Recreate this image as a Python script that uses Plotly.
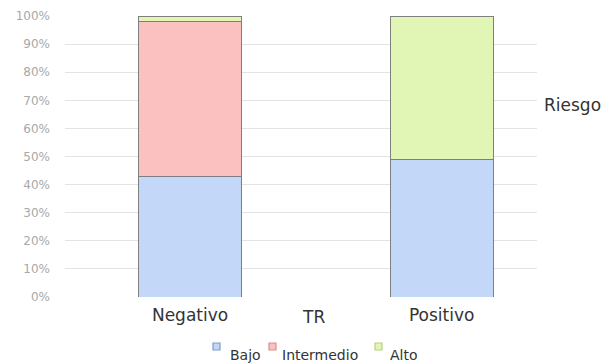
import plotly.graph_objects as go

# Categories and stacked percentage values per risk level
categorias = ["Negativo", "Positivo"]
bajo = [43, 49]
intermedio = [55, 0]
alto = [2, 51]
ticks_y = [0, 10, 20, 30, 40, 50, 60, 70, 80, 90, 100]
ticks_y_text = [f"{v}%" for v in ticks_y]

# name, values, fill colour, icon outline colour
series = [
    ("Bajo", bajo, "#c3d7f8", "#7f9cc9"),
    ("Intermedio", intermedio, "#fbc0c0", "#d88f8f"),
    ("Alto", alto, "#e1f5b5", "#b9cf85"),
]

fig = go.Figure()
for nombre, valores, color, _ in series:
    fig.add_trace(go.Bar(
        x=categorias,
        y=valores,
        name=nombre,
        width=0.41,
        marker=dict(color=color, line=dict(color="#7f7f7f", width=1)),
        showlegend=False,
    ))

# Plot-area geometry in pixels (used to place the free text in paper units)
W, H = 604, 364
L, R, T, B = 65, 67, 16, 67
pw, ph = W - L - R, H - T - B


def px_x(x):
    return (x - L) / pw


def px_y(y):
    return (H - B - y) / ph


# Compact legend row: small outlined square followed by the series name
icon_left = [213, 269, 375]
text_left = [228, 280, 388]
anotaciones = []
formas = []
for (nombre, _, color, borde), xi, xt in zip(series, icon_left, text_left):
    formas.append(dict(
        type="rect", xref="paper", yref="paper",
        x0=px_x(xi), x1=px_x(xi + 7), y0=px_y(350), y1=px_y(343),
        fillcolor=color, line=dict(color=borde, width=1.2),
    ))
    anotaciones.append(dict(
        text=nombre, x=px_x(xt), y=px_y(355), xref="paper", yref="paper",
        xanchor="left", yanchor="middle", showarrow=False,
        font=dict(size=14, color="#333333"),
    ))

anotaciones += [
    dict(text="TR", x=px_x(313), y=px_y(317), xref="paper", yref="paper",
         xanchor="center", yanchor="middle", showarrow=False,
         font=dict(size=17, color="#333333")),
    dict(text="Riesgo", x=px_x(572), y=px_y(105), xref="paper", yref="paper",
         xanchor="center", yanchor="middle", showarrow=False,
         font=dict(size=17, color="#333333")),
]

fig.update_layout(
    barmode="stack",
    width=W,
    height=H,
    margin=dict(l=L, r=R, t=T, b=B, autoexpand=False),
    paper_bgcolor="white",
    plot_bgcolor="white",
    font=dict(family="DejaVu Sans", color="#333333"),
    showlegend=False,
    xaxis=dict(
        range=[-0.497, 1.379],
        showgrid=False,
        showline=False,
        ticks="",
        automargin=False,
        ticklabelstandoff=6,
        tickfont=dict(size=17, color="#333333"),
    ),
    yaxis=dict(
        range=[0, 100],
        tickvals=ticks_y,
        ticktext=ticks_y_text,
        showgrid=True,
        gridcolor="#e3e3e3",
        gridwidth=1,
        zeroline=False,
        showline=False,
        ticks="",
        automargin=False,
        ticklabelstandoff=14,
        tickfont=dict(size=12, color="#a8a8a8"),
    ),
    shapes=formas,
    annotations=anotaciones,
)

fig.write_html("out.html")
